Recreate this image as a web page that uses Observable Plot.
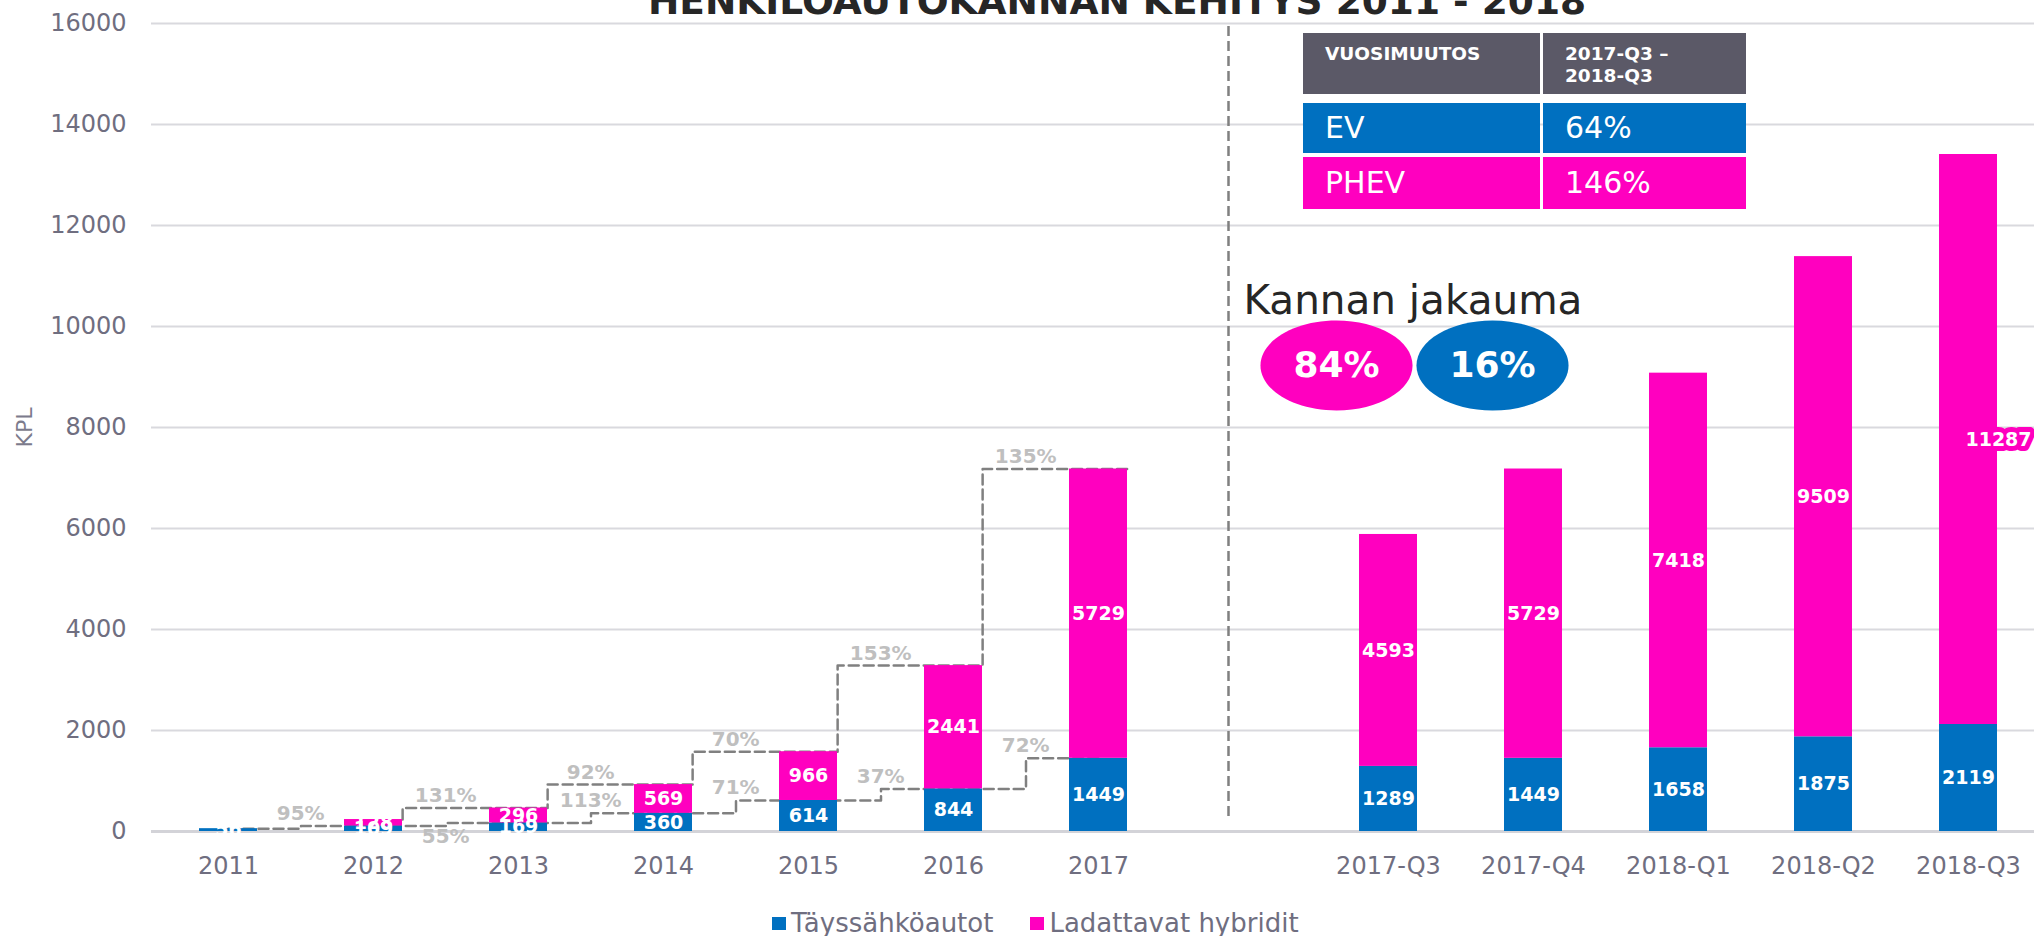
<!DOCTYPE html>
<html>
<head>
<meta charset="utf-8">
<script src="https://cdn.jsdelivr.net/npm/d3@7"></script>
<script src="https://cdn.jsdelivr.net/npm/@observablehq/plot@0.6"></script>
<style>
  html, body { margin: 0; padding: 0; background: #ffffff; }
  #wrap { position: relative; width: 2034px; height: 936px; overflow: hidden; font-family: "DejaVu Sans", Verdana, sans-serif; }
  #wrap svg { position: absolute; left: 0; top: 0; }
  .cell { position: absolute; box-sizing: border-box; color: #ffffff; white-space: pre; }
  .legend { position: absolute; left: 772px; top: 910px; display: flex; align-items: flex-start; font-size: 26px; line-height: 26px; color: #6f6e80; white-space: nowrap; }
  .legend .item { display: flex; align-items: flex-start; margin-right: 37px; }
  .legend .sw { width: 14px; height: 13px; margin-top: 7px; margin-right: 5px; }
</style>
</head>
<body>
<div id="wrap"></div>
<script>
// ---------------- data ----------------
const categories = ["2011","2012","2013","2014","2015","2016","2017","2017-Q3","2017-Q4","2018-Q1","2018-Q2","2018-Q3"];
const evValues   = [56, 109, 169, 360, 614, 844, 1449, 1289, 1449, 1658, 1875, 2119];
const phevValues = [0, 128, 296, 569, 966, 2441, 5729, 4593, 5729, 7418, 9509, 11287];
const seriesNames = ["Täyssähköautot", "Ladattavat hybridit"];
const seriesColors = ["#0070c0", "#ff00bf"];
const yTicks = [0, 2000, 4000, 6000, 8000, 10000, 12000, 14000, 16000];
const titleText = "HENKILÖAUTOKANNAN KEHITYS 2011 - 2018";
const yLabel = "KPL";
const shareTitle = "Kannan jakauma";
const changeTitle = "VUOSIMUUTOS";
const changePeriod = "2017-Q3 –\n2018-Q3";
const tableSeries = ["EV", "PHEV"];

// ---------------- derived ----------------
const annualYears = categories.slice(0, 7);
const quarterCats = categories.slice(7);
const GAP = "gap";
const xDomain = [...annualYears, GAP, ...quarterCats];
const pct = (a, b) => Math.round((b / a - 1) * 100) + "%";

const rows = [];
categories.forEach((c, i) => {
  rows.push({cat: c, series: seriesNames[0], y1: 0, y2: evValues[i], value: evValues[i]});
  rows.push({cat: c, series: seriesNames[1], y1: evValues[i], y2: evValues[i] + phevValues[i], value: phevValues[i]});
});
const lastCat = categories[categories.length - 1];
const evLine = annualYears.map((c, i) => ({cat: c, v: evValues[i]}));
const totLine = annualYears.slice(1).map((c, j) => ({cat: c, v: evValues[j + 1] + phevValues[j + 1]}));
const evChange = annualYears.slice(1).map((c, j) => ({cat: c, level: evValues[j + 1], text: pct(evValues[j], evValues[j + 1])}));
const phevChange = annualYears.slice(2).map((c, j) => ({cat: c, level: evValues[j + 2] + phevValues[j + 2], text: pct(phevValues[j + 1], phevValues[j + 2])}));

const li = categories.length - 1, fi = categories.indexOf(quarterCats[0]);
const lastTotal = evValues[li] + phevValues[li];
const shares = [
  {series: seriesNames[1], label: Math.round(phevValues[li] / lastTotal * 100) + "%"},
  {series: seriesNames[0], label: Math.round(evValues[li] / lastTotal * 100) + "%"}
];
const tableValues = [pct(evValues[fi], evValues[li]), pct(phevValues[fi], phevValues[li])];

// ---------------- layout ----------------
const W = 2034, H = 890, ML = 151, MT = 23, MB = 59;
const xRange = [151, 2044];
const step = (xRange[1] - xRange[0]) / xDomain.length;
const bw = step * 0.4;
const FONT = "DejaVu Sans, Verdana, sans-serif";
const tickColor = "#6f6e80";
const pctColor = "#bfbfbf";
const dash = {stroke: "#808080", strokeWidth: 2.5, strokeDasharray: "10,5"};

// ellipse symbol
const ellipse = {
  draw(ctx, size) {
    const ry = Math.sqrt(size / Math.PI), rx = ry * 1.69, k = 0.5523;
    ctx.moveTo(rx, 0);
    ctx.bezierCurveTo(rx, k * ry, k * rx, ry, 0, ry);
    ctx.bezierCurveTo(-k * rx, ry, -rx, k * ry, -rx, 0);
    ctx.bezierCurveTo(-rx, -k * ry, -k * rx, -ry, 0, -ry);
    ctx.bezierCurveTo(k * rx, -ry, rx, -k * ry, rx, 0);
    ctx.closePath();
  }
};

const pctOpts = {x: "cat", y: "level", text: "text", dx: -step / 2, fill: pctColor, fontWeight: "bold", fontSize: 20, textAnchor: "middle"};
const barLabelOpts = {x: "cat", y: d => (d.y1 + d.y2) / 2, text: d => String(d.value), fill: "white", fontWeight: "bold", fontSize: 19, textAnchor: "middle", lineAnchor: "middle"};
const isShifted = d => d.cat === lastCat && d.series === seriesNames[1];

const chart = Plot.plot({
  width: W, height: H,
  marginLeft: ML, marginRight: 0, marginTop: MT, marginBottom: MB,
  style: {fontFamily: FONT, background: "transparent", overflow: "visible"},
  x: {domain: xDomain, range: xRange, paddingInner: 0.6, paddingOuter: 0.3, align: 0.5, axis: null},
  y: {domain: [0, 16000], axis: null},
  color: {domain: seriesNames, range: seriesColors},
  marks: [
    Plot.gridY(yTicks, {stroke: "#d9d9de", strokeOpacity: 1, strokeWidth: 2}),
    Plot.ruleY([0], {stroke: "#d3d3d8", strokeWidth: 3}),
    Plot.line(evLine, {x: "cat", y: "v", curve: "step", ...dash}),
    Plot.line(totLine, {x: "cat", y: "v", curve: "step-before", dx: bw / 2, ...dash}),
    Plot.barY(rows, {x: "cat", y1: "y1", y2: "y2", fill: "series"}),
    Plot.text(rows.filter(d => d.value > 0 && !isShifted(d)), barLabelOpts),
    Plot.text(rows.filter(isShifted), {...barLabelOpts, dx: 30, stroke: seriesColors[1], strokeWidth: 10, strokeLinejoin: "round", paintOrder: "stroke"}),
    Plot.text(evChange.filter(d => d.cat !== "2013"), {...pctOpts, dy: -6, lineAnchor: "bottom"}),
    Plot.text(evChange.filter(d => d.cat === "2013"), {...pctOpts, dy: 6, lineAnchor: "top"}),
    Plot.text(phevChange, {...pctOpts, dy: -6, lineAnchor: "bottom"}),
    Plot.ruleX([GAP], {x: d => d, dx: -15, insetTop: 3, insetBottom: 11, ...dash}),
    Plot.axisX({tickSize: 0, tickPadding: 25, fontSize: 24, fill: tickColor, label: null, tickFormat: d => d === GAP ? "" : d}),
    Plot.axisY({ticks: yTicks, tickSize: 0, tickPadding: 25, fontSize: 24, fill: tickColor, label: null, tickFormat: d => String(d)}),
    Plot.text([yLabel], {frameAnchor: "left", dx: -127, rotate: -90, fontSize: 22, fill: "#7c7b8c", textAnchor: "middle", lineAnchor: "middle"}),
    Plot.text([titleText], {frameAnchor: "top", dx: 24, dy: -10, fontSize: 37.5, fontWeight: "bold", fill: "#262626", textAnchor: "middle", lineAnchor: "bottom"}),
    Plot.text([shareTitle], {frameAnchor: "top-left", dx: 1243 - ML, dy: 313 - MT, fontSize: 40.5, fill: "#262626", textAnchor: "start", lineAnchor: "bottom"}),
    Plot.dot([shares[0]], {x: () => quarterCats[0], frameAnchor: "top", dx: -52, dy: 342, r: 45, symbol: ellipse, fill: "series", stroke: null}),
    Plot.dot([shares[1]], {x: () => quarterCats[0], frameAnchor: "top", dx: 104, dy: 342, r: 45, symbol: ellipse, fill: "series", stroke: null}),
    Plot.text([shares[0]], {x: () => quarterCats[0], frameAnchor: "top", dx: -52, dy: 342, text: "label", fill: "white", fontWeight: "bold", fontSize: 36, textAnchor: "middle", lineAnchor: "middle"}),
    Plot.text([shares[1]], {x: () => quarterCats[0], frameAnchor: "top", dx: 104, dy: 342, text: "label", fill: "white", fontWeight: "bold", fontSize: 36, textAnchor: "middle", lineAnchor: "middle"})
  ]
});

const wrap = document.getElementById("wrap");
wrap.appendChild(chart);

// ---------------- change table ----------------
const tbl = document.createElement("div");
tbl.style.cssText = "position:absolute;left:1303px;top:33px;";
const colX = [0, 240], colW = [237, 203];
const rowY = [0, 70, 124], rowH = [61, 50, 52];
const cellTexts = [[changeTitle, changePeriod], [tableSeries[0], tableValues[0]], [tableSeries[1], tableValues[1]]];
const rowBg = ["#5b5967", seriesColors[0], seriesColors[1]];
cellTexts.forEach((r, ri) => r.forEach((t, ci) => {
  const c = document.createElement("div");
  c.className = "cell";
  c.textContent = t;
  const header = ri === 0;
  c.style.cssText += `left:${colX[ci]}px;top:${rowY[ri]}px;width:${colW[ci]}px;height:${rowH[ri]}px;background:${rowBg[ri]};padding-left:22px;` +
    (header ? "font-size:18.5px;font-weight:bold;line-height:22px;padding-top:10px;" : `font-size:30px;line-height:${rowH[ri]}px;`);
  tbl.appendChild(c);
}));
wrap.appendChild(tbl);

// ---------------- legend ----------------
const leg = document.createElement("div");
leg.className = "legend";
seriesNames.forEach((n, i) => {
  const it = document.createElement("div");
  it.className = "item";
  const sw = document.createElement("div");
  sw.className = "sw";
  sw.style.background = seriesColors[i];
  const tx = document.createElement("span");
  tx.textContent = n;
  it.appendChild(sw); it.appendChild(tx);
  leg.appendChild(it);
});
wrap.appendChild(leg);
</script>
</body>
</html>
